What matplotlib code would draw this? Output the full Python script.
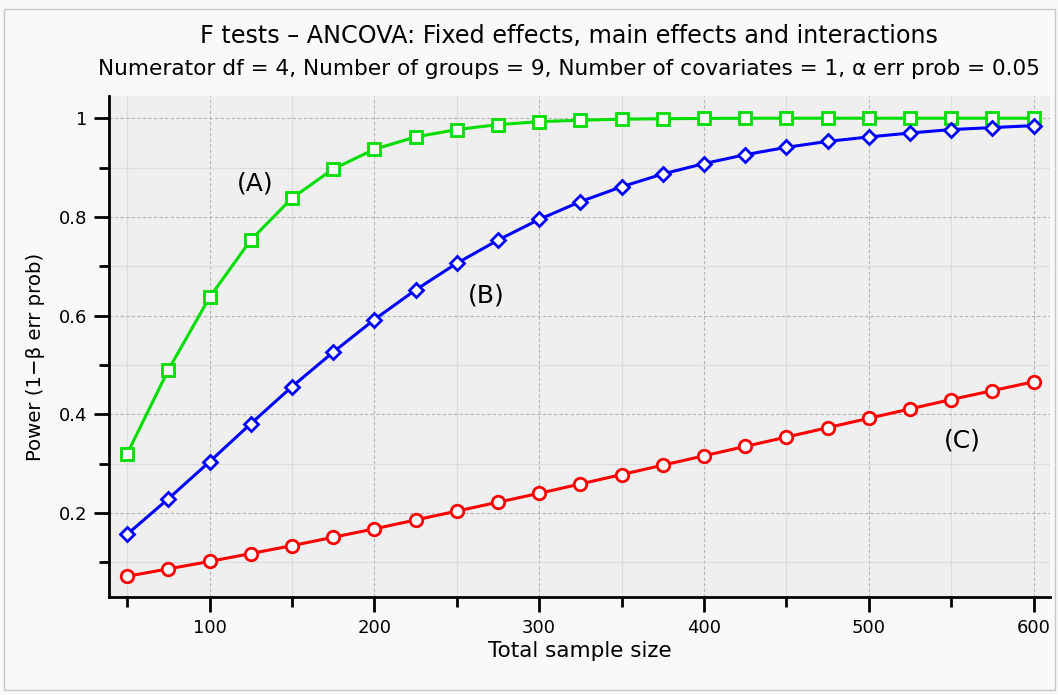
import matplotlib.pyplot as plt
from matplotlib.ticker import MultipleLocator
from matplotlib.patches import Rectangle

plt.rcParams['font.family'] = ['DejaVu Sans']

sample_size = [50, 75, 100, 125, 150, 175, 200, 225, 250, 275, 300, 325,
               350, 375, 400, 425, 450, 475, 500, 525, 550, 575, 600]
power_a = [0.320, 0.490, 0.637, 0.753, 0.838, 0.897, 0.937, 0.962, 0.977, 0.987,
           0.993, 0.996, 0.998, 0.999, 0.9995, 1.0, 1.0, 1.0, 1.0, 1.0, 1.0, 1.0, 1.0]
power_b = [0.157, 0.229, 0.304, 0.381, 0.456, 0.526, 0.592, 0.652, 0.706, 0.753,
           0.795, 0.831, 0.861, 0.887, 0.908, 0.926, 0.941, 0.953, 0.962, 0.970,
           0.977, 0.981, 0.985]
power_c = [0.072, 0.087, 0.102, 0.118, 0.134, 0.151, 0.168, 0.186, 0.204, 0.222,
           0.240, 0.259, 0.278, 0.297, 0.316, 0.335, 0.354, 0.373, 0.392, 0.411,
           0.430, 0.448, 0.466]

fig = plt.figure(figsize=(10.58, 6.95), dpi=100, facecolor='#f9f9f9')
fig.patches.append(Rectangle((0.004, 0.007), 0.993, 0.98, transform=fig.transFigure,
                             fill=False, edgecolor='#c8c8c8', linewidth=1))
ax = fig.add_axes([109 / 1058, 1 - 597 / 695, (1050 - 109) / 1058, (597 - 96) / 695])
ax.set_facecolor('#efefef')

mk = dict(markerfacecolor='white', markeredgewidth=2, markersize=8, linewidth=2.2)
ax.plot(sample_size, power_a, color='#00dd00', marker='s', **mk)
ax.plot(sample_size, power_b, color='#0000ff', marker='D', **dict(mk, markersize=7))
ax.plot(sample_size, power_c, color='#ff0000', marker='o', **dict(mk, markersize=9))

ax.set_xlim(39, 610)
ax.set_ylim(0.03, 1.045)
ax.xaxis.set_minor_locator(MultipleLocator(50))
ax.yaxis.set_minor_locator(MultipleLocator(0.1))
ax.set_yticks([0.2, 0.4, 0.6, 0.8, 1.0])
ax.set_yticklabels(['0.2', '0.4', '0.6', '0.8', '1'])
ax.set_xticks([100, 200, 300, 400, 500, 600])

ax.grid(which='major', color='#b4b4b4', linestyle=(0, (3, 2)), linewidth=0.8)
ax.grid(which='minor', color='#dcdcdc', linestyle='-', linewidth=0.8)
ax.set_axisbelow(True)

for s in ['top', 'right']:
    ax.spines[s].set_visible(False)
for s in ['left', 'bottom']:
    ax.spines[s].set_linewidth(2)
ax.tick_params(which='major', length=10.5, width=2, labelsize=13, pad=5)
ax.tick_params(which='minor', length=7.5, width=2)

ax.set_xlabel('Total sample size', fontsize=15.5, labelpad=3)
ax.set_ylabel('Power (1\u2212\u03b2 err prob)', fontsize=14.2)
ax.yaxis.set_label_coords(-0.068, 0.48)

ax.text(128, 0.868, '(A)', fontsize=18, ha='center', va='center')
ax.text(268, 0.64, '(B)', fontsize=18, ha='center', va='center')
ax.text(557, 0.348, '(C)', fontsize=18, ha='center', va='center')

fig.text(0.538, 1 - 36 / 695, 'F tests \u2013 ANCOVA: Fixed effects, main effects and interactions',
         fontsize=17.2, ha='center', va='center')
fig.text(0.538, 1 - 69 / 695,
         'Numerator df = 4, Number of groups = 9, Number of covariates = 1, \u03b1 err prob = 0.05',
         fontsize=15.6, ha='center', va='center')

fig.savefig('out.png', dpi=100, facecolor=fig.get_facecolor())
